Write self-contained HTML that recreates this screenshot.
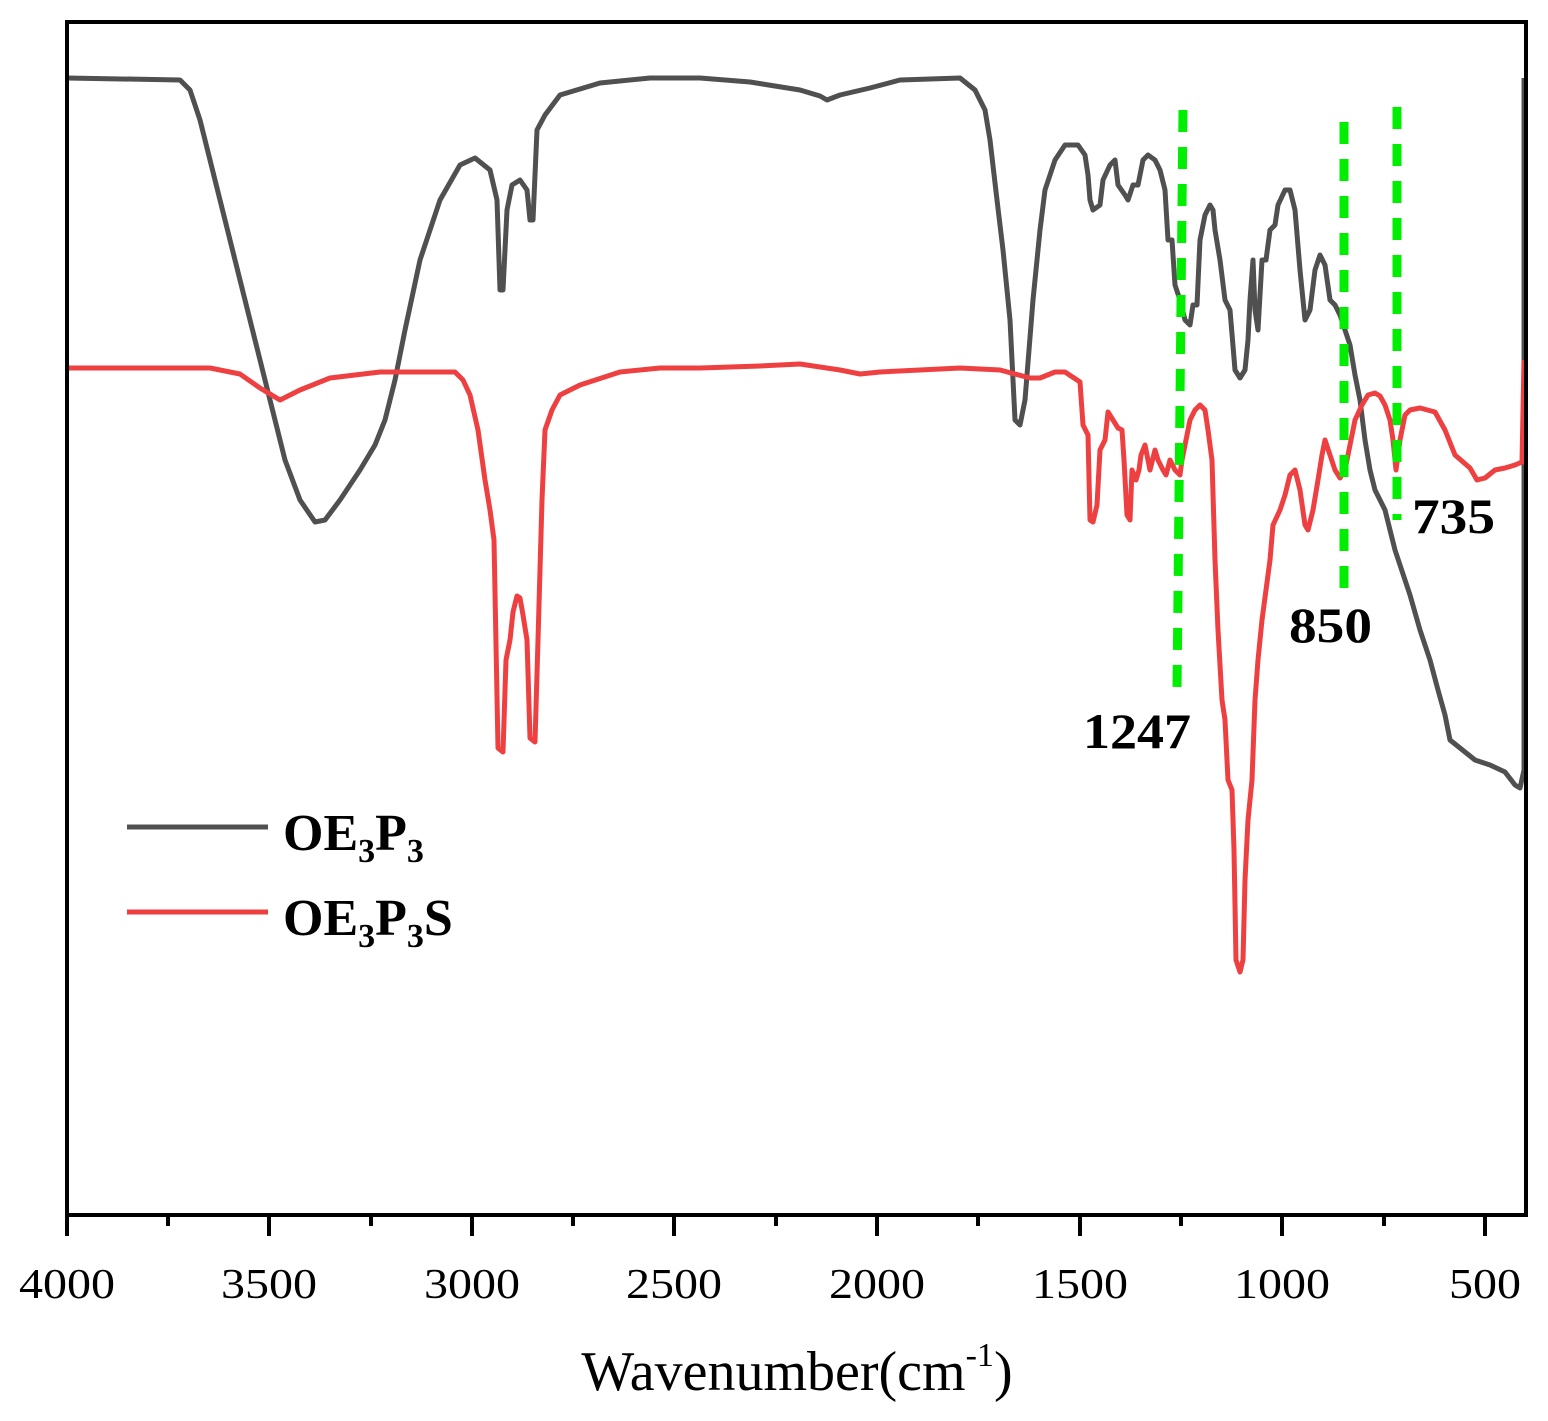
<!DOCTYPE html><html><head><style>body{margin:0;background:#fff}svg{display:block}</style></head><body>
<svg width="1548" height="1421" xmlns="http://www.w3.org/2000/svg" font-family="Liberation Serif, serif">
<rect width="1548" height="1421" fill="#fff"/>
<polyline fill="none" stroke="#505050" stroke-width="5" stroke-linejoin="round" points="67,78 180,80 190,90 200,120 215,180 235,260 255,340 270,400 285,460 300,500 315,522 325,520 340,500 360,470 375,445 385,420 395,380 405,330 420,260 440,200 460,165 475,158 490,170 497,200 500,290 503,290 507,210 512,185 520,180 527,190 530,220 533,220 537,130 545,115 560,95 600,83 650,78 700,78 750,82 800,90 820,96 827,100 840,95 870,88 900,80 960,78 975,90 985,110 990,140 997,200 1003,250 1010,320 1015,420 1020,425 1025,400 1033,300 1040,230 1045,190 1055,160 1065,145 1078,145 1085,155 1088,175 1090,200 1093,210 1100,205 1103,180 1110,165 1115,160 1118,185 1125,195 1128,200 1133,185 1138,185 1143,160 1148,155 1155,160 1160,170 1165,190 1168,240 1172,240 1175,285 1180,300 1185,320 1190,325 1193,305 1197,305 1200,240 1205,215 1210,205 1213,210 1215,230 1220,260 1225,300 1230,310 1235,370 1240,378 1245,370 1248,340 1250,300 1253,260 1255,310 1258,330 1262,260 1266,260 1270,230 1275,225 1278,205 1285,190 1290,190 1295,210 1300,270 1305,320 1310,310 1315,270 1320,255 1325,265 1330,300 1335,305 1340,315 1345,330 1350,345 1355,375 1360,400 1365,440 1370,470 1375,490 1380,500 1385,510 1390,530 1395,550 1400,565 1410,595 1420,630 1430,660 1438,690 1445,715 1450,740 1460,748 1475,760 1490,765 1505,772 1515,785 1520,788 1524,770 1524,78"/>
<polyline fill="none" stroke="#ee4040" stroke-width="5" stroke-linejoin="round" points="67,368 210,368 240,374 260,388 280,400 300,390 330,378 380,372 455,372 463,380 470,395 478,430 485,480 490,510 494,540 498,748 503,752 506,660 510,640 513,612 517,596 520,598 523,615 527,640 530,738 535,742 538,640 542,500 545,430 552,410 560,395 580,385 620,372 660,368 700,368 760,366 800,364 840,370 860,374 880,372 920,370 960,368 1000,370 1030,378 1040,378 1055,372 1065,372 1080,382 1083,425 1088,435 1090,520 1093,522 1097,505 1100,450 1105,440 1108,412 1113,420 1118,428 1122,430 1124,460 1127,515 1130,520 1132,470 1136,480 1139,470 1141,455 1145,445 1150,470 1155,450 1158,460 1163,470 1166,475 1170,460 1175,470 1180,475 1182,460 1185,445 1190,420 1195,410 1200,405 1205,410 1208,430 1212,460 1215,560 1218,630 1222,700 1225,720 1228,780 1232,790 1234,850 1236,960 1240,972 1243,960 1245,880 1248,820 1252,780 1255,700 1258,660 1262,620 1266,590 1270,560 1273,525 1280,510 1285,495 1290,475 1295,470 1300,490 1305,525 1308,530 1313,510 1318,480 1322,455 1325,440 1330,455 1335,470 1340,478 1345,470 1350,445 1355,420 1362,405 1368,395 1375,393 1380,396 1385,405 1390,420 1393,440 1396,470 1400,440 1405,415 1410,410 1420,408 1435,412 1445,430 1455,455 1470,468 1477,480 1485,478 1495,470 1505,468 1515,465 1522,462 1524,360"/>
<g stroke="#00ee00" stroke-width="9" stroke-dasharray="22,15" fill="none">
<line x1="1183" y1="110" x2="1177" y2="690"/>
<line x1="1344" y1="122" x2="1344" y2="590"/>
<line x1="1397" y1="107" x2="1397" y2="520"/>
</g>
<g font-weight="bold" font-size="50" fill="#000">
<text x="1083" y="748" textLength="108" lengthAdjust="spacingAndGlyphs">1247</text>
<text x="1289" y="642" textLength="83" lengthAdjust="spacingAndGlyphs">850</text>
<text x="1412" y="533" textLength="83" lengthAdjust="spacingAndGlyphs">735</text>
</g>
<rect x="67" y="22" width="1459" height="1193" fill="none" stroke="#000" stroke-width="4"/>
<g stroke="#000" stroke-width="4">
<line x1="67" y1="1215" x2="67" y2="1236"/><line x1="168" y1="1215" x2="168" y2="1226"/>
<line x1="269" y1="1215" x2="269" y2="1236"/><line x1="371" y1="1215" x2="371" y2="1226"/>
<line x1="472" y1="1215" x2="472" y2="1236"/><line x1="573" y1="1215" x2="573" y2="1226"/>
<line x1="674" y1="1215" x2="674" y2="1236"/><line x1="776" y1="1215" x2="776" y2="1226"/>
<line x1="877" y1="1215" x2="877" y2="1236"/><line x1="978" y1="1215" x2="978" y2="1226"/>
<line x1="1080" y1="1215" x2="1080" y2="1236"/><line x1="1181" y1="1215" x2="1181" y2="1226"/>
<line x1="1282" y1="1215" x2="1282" y2="1236"/><line x1="1384" y1="1215" x2="1384" y2="1226"/>
<line x1="1485" y1="1215" x2="1485" y2="1236"/>
</g>
<g font-size="42" text-anchor="middle" fill="#000">
<text x="67" y="1298" textLength="96" lengthAdjust="spacingAndGlyphs">4000</text><text x="269" y="1298" textLength="96" lengthAdjust="spacingAndGlyphs">3500</text><text x="472" y="1298" textLength="96" lengthAdjust="spacingAndGlyphs">3000</text>
<text x="674" y="1298" textLength="96" lengthAdjust="spacingAndGlyphs">2500</text><text x="877" y="1298" textLength="96" lengthAdjust="spacingAndGlyphs">2000</text><text x="1080" y="1298" textLength="96" lengthAdjust="spacingAndGlyphs">1500</text>
<text x="1282" y="1298" textLength="96" lengthAdjust="spacingAndGlyphs">1000</text><text x="1485" y="1298" textLength="72" lengthAdjust="spacingAndGlyphs">500</text>
</g>
<text x="797" y="1390" font-size="56" text-anchor="middle">Wavenumber(cm<tspan font-size="34" dy="-24">-1</tspan><tspan dy="24">)</tspan></text>
<line x1="127" y1="827" x2="268" y2="827" stroke="#505050" stroke-width="5"/>
<line x1="127" y1="912" x2="268" y2="912" stroke="#ee4040" stroke-width="5"/>
<g font-weight="bold" font-size="52" fill="#000">
<text x="283" y="850">OE<tspan font-size="34" dy="12">3</tspan><tspan dy="-12">P</tspan><tspan font-size="34" dy="12">3</tspan></text>
<text x="283" y="935">OE<tspan font-size="34" dy="12">3</tspan><tspan dy="-12">P</tspan><tspan font-size="34" dy="12">3</tspan><tspan dy="-12">S</tspan></text>
</g>
</svg>
</body></html>
